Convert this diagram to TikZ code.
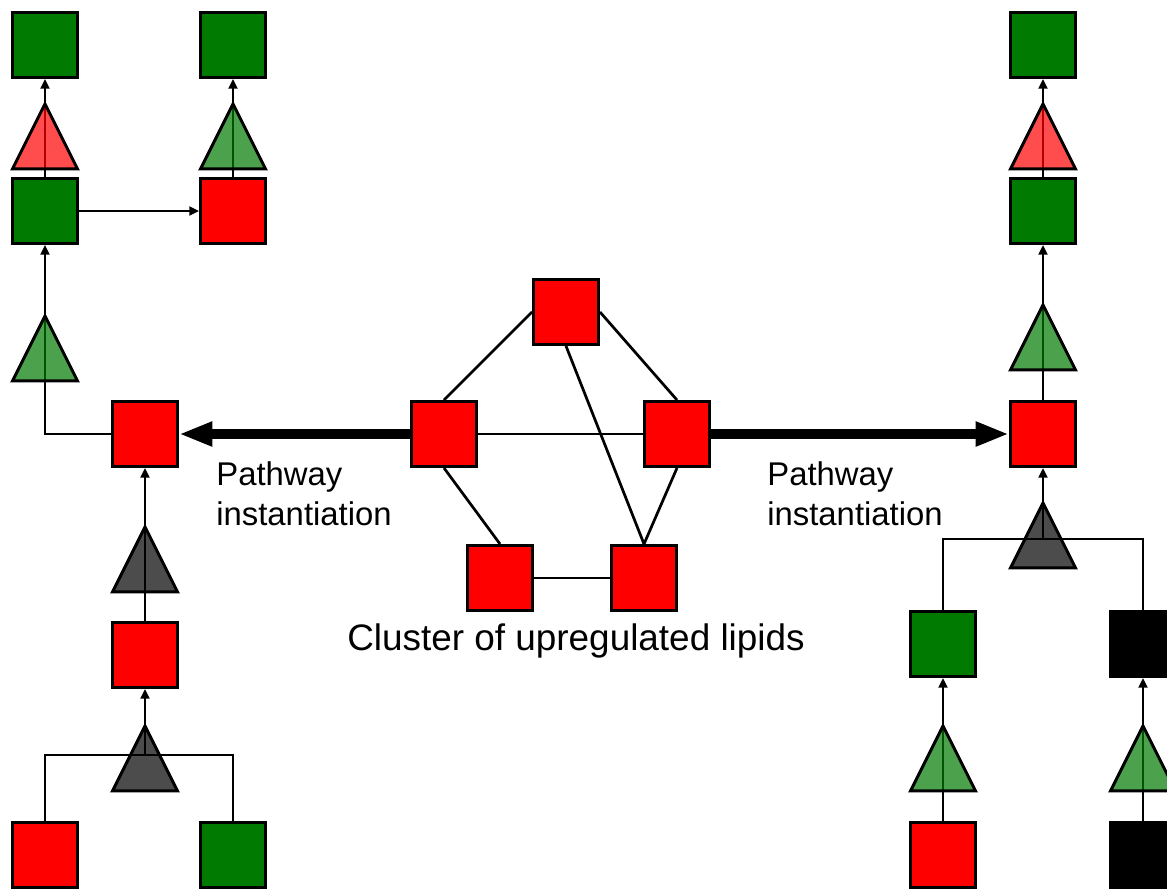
\documentclass[tikz,border=0pt]{standalone}
\usepackage{fontspec}
\setmainfont{Liberation Sans}
\usetikzlibrary{shapes.geometric, arrows.meta, positioning}
\definecolor{upreg}{RGB}{255,0,0}
\definecolor{downreg}{RGB}{0,122,0}
\definecolor{nochg}{RGB}{0,0,0}

\begin{document}
\begin{tikzpicture}[
  x=0.02cm, y=-0.02cm,
  font=\fontsize{18.7}{22.8}\selectfont,
  sqr/.style={draw, line width=1.7pt, minimum size=1.3cm, inner sep=0pt, fill=#1},
  tri/.style={draw, line width=1.7pt, isosceles triangle, isosceles triangle stretches,
    shape border rotate=90, minimum width=1.3cm, minimum height=1.3cm, inner sep=0pt,
    fill=#1, fill opacity=0.7, anchor=apex},
  link/.style={line width=1.55pt},
  arrow/.style={-{Triangle[length=5.5pt, width=5pt]}, line width=1.55pt},
  bigarrow/.style={-{Triangle[length=19pt, width=13pt]}, line width=5.7pt},
  lbl/.style={inner sep=0pt, align=left}
]
\useasboundingbox (0,0) rectangle (1167,890);
\clip (0,0) rectangle (1167,890);

% left pathway
\node[sqr=downreg] (TL1) at (45,45) {};
\node[sqr=downreg] (TL2) at (45,211) {};
\node[sqr=downreg] (B1) at (233,45) {};
\node[sqr=upreg] (B2) at (233,211) {};
\node[sqr=upreg] (L) at (145,434) {};
\node[sqr=upreg] (L2) at (145,655) {};
\node[sqr=upreg] (LL1) at (45,855) {};
\node[sqr=downreg] (LL2) at (233,855) {};
\coordinate (jL) at (145,755);

% cluster
\node[sqr=upreg] (c1) at (566,312) {};
\node[sqr=upreg] (c2) at (444,434) {};
\node[sqr=upreg] (c3) at (677,434) {};
\node[sqr=upreg] (c4) at (500,578) {};
\node[sqr=upreg] (c5) at (644,578) {};

% right pathway
\node[sqr=downreg] (R1) at (1043,45) {};
\node[sqr=downreg] (R2) at (1043,211) {};
\node[sqr=upreg] (R) at (1043,434) {};
\node[sqr=downreg] (RG) at (943,644) {};
\node[sqr=nochg] (RK) at (1143,644) {};
\node[sqr=upreg] (RR) at (943,855) {};
\node[sqr=nochg] (RKK) at (1143,855) {};
\coordinate (jR) at (1043,539);

% connectors
\draw[arrow] (TL2) -- (TL1);
\draw[arrow] (TL2) -- (B2);
\draw[arrow] (B2) -- (B1);
\draw[arrow] (L.west) -| (TL2.south);
\draw[arrow] (L2) -- (L);
\draw[link] (LL1.north) |- (jL) -| (LL2.north);
\draw[arrow] (jL) -- (L2);

\draw[link] (c1.west) -- (c2.north);
\draw[link] (c1.east) -- (c3.north);
\draw[link] (c1.south) -- (c5.north);
\draw[link] (c2) -- (c3);
\draw[link] (c2.south) -- (c4.north);
\draw[link] (c3.south) -- (c5.north);
\draw[link] (c4) -- (c5);

\draw[arrow] (R2) -- (R1);
\draw[arrow] (R) -- (R2);
\draw[link] (RG.north) |- (jR) -| (RK.north);
\draw[arrow] (jR) -- (R);
\draw[arrow] (RR) -- (RG);
\draw[arrow] (RKK) -- (RK);

\draw[bigarrow] (c2) -- (L);
\draw[bigarrow] (c3) -- (R);

% reactions
\node[tri=upreg] (t1) at (45,100) {};
\node[tri=downreg] (t2) at (233,100) {};
\node[tri=downreg] (t3) at (45,312) {};
\node[tri=nochg] (t4) at (145,523) {};
\node[tri=nochg] (t5) at (145,722) {};
\node[tri=upreg] (t6) at (1043,100) {};
\node[tri=downreg] (t7) at (1043,301) {};
\node[tri=nochg] (t8) at (1043,499) {};
\node[tri=downreg] (t9) at (943,722) {};
\node[tri=downreg] (t10) at (1143,722) {};

% labels
\node[lbl, anchor=north west] (pw1) at (216,461) {Pathway\\instantiation};
\node[lbl, anchor=north west] (pw2) at (767,461) {Pathway\\instantiation};
\node[lbl, anchor=base, font=\fontsize{21}{25}\selectfont] (cl) at (576,650) {Cluster of upregulated lipids};
\end{tikzpicture}
\end{document}
